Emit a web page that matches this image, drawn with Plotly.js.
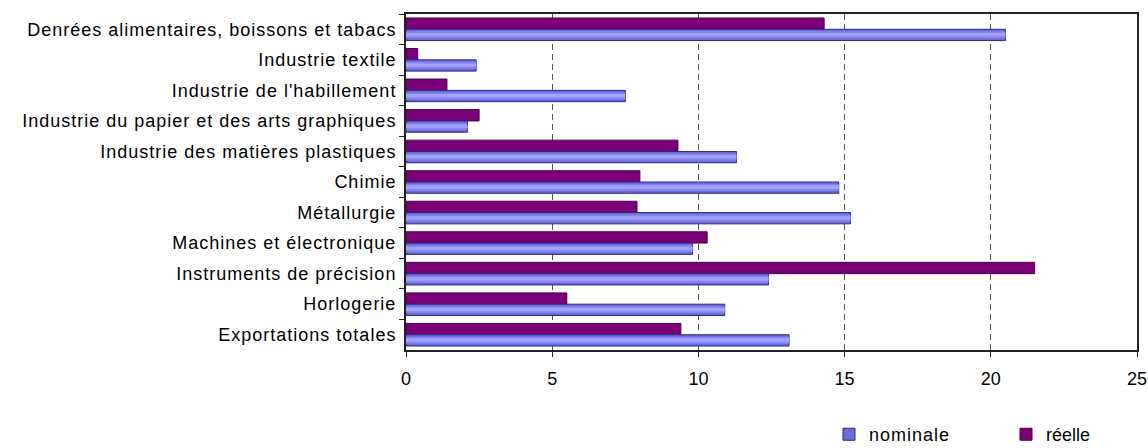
<!DOCTYPE html>
<html>
<head>
<meta charset="utf-8">
<script src="https://cdn.plot.ly/plotly-3.0.1.min.js"></script>
<style>
  html, body { margin: 0; padding: 0; background: #fff; }
  #chart { width: 1148px; height: 448px; }
  .ytick text, .legendtext { letter-spacing: 1px; }
</style>
</head>
<body>
<div id="chart"></div>
<script>
// Categories (top to bottom)
const categories = [
  "Denrées alimentaires, boissons et tabacs",
  "Industrie textile",
  "Industrie de l'habillement",
  "Industrie du papier et des arts graphiques",
  "Industrie des matières plastiques",
  "Chimie",
  "Métallurgie",
  "Machines et électronique",
  "Instruments de précision",
  "Horlogerie",
  "Exportations totales"
];

// Series values
const nominale = [20.5, 2.4, 7.5, 2.1, 11.3, 14.8, 15.2, 9.8, 12.4, 10.9, 13.1];
const reelle   = [14.3, 0.4, 1.4, 2.5, 9.3, 8.0, 7.9, 10.3, 21.5, 5.5, 9.4];

// Axis ticks
const xTicks = [0, 5, 10, 15, 20, 25];

const BAR_W = 0.37;
const FONT = "Liberation Sans, Arial, sans-serif";

const traces = [
  {
    type: "bar", orientation: "h", name: "réelle", legend: "legend2",
    y: categories, x: reelle,
    offset: -BAR_W, width: BAR_W,
    marker: { color: "#7b0077", line: { color: "#4a0046", width: 1 } }
  },
  {
    type: "bar", orientation: "h", name: "nominale", legend: "legend",
    y: categories, x: nominale,
    offset: 0, width: BAR_W,
    marker: { color: "#6a6ad8", line: { color: "#2c2c82", width: 1 } }
  },
  // cylinder shading on the nominale bars
  {
    type: "bar", orientation: "h", name: "nominale", showlegend: false, hoverinfo: "skip",
    y: categories, x: nominale,
    offset: BAR_W * 0.18, width: BAR_W * 0.62,
    marker: { color: "#8585f2", line: { width: 0 } }
  },
  {
    type: "bar", orientation: "h", name: "nominale", showlegend: false, hoverinfo: "skip",
    y: categories, x: nominale,
    offset: BAR_W * 0.32, width: BAR_W * 0.3,
    marker: { color: "#a2a2ff", line: { width: 0 } }
  }
];

const legendStyle = {
  orientation: "h", xref: "container", yref: "container",
  yanchor: "middle", xanchor: "left", y: 0.03,
  font: { family: FONT, size: 18, color: "#000" },
  bgcolor: "rgba(0,0,0,0)", borderwidth: 0,
  itemclick: false, itemdoubleclick: false
};

const layout = {
  width: 1148, height: 448,
  margin: { l: 406, r: 11, t: 14, b: 98, pad: 0 },
  paper_bgcolor: "#ffffff", plot_bgcolor: "#ffffff",
  barmode: "overlay",
  font: { family: FONT, size: 18, color: "#000" },
  xaxis: {
    range: [0, 25], tickvals: xTicks, ticktext: xTicks.map(String),
    showgrid: true, gridcolor: "#555", griddash: "6px,4px", gridwidth: 1,
    zeroline: false,
    showline: true, linecolor: "#222", linewidth: 2, mirror: true,
    ticks: "outside", ticklen: 5, tickcolor: "#222",
    ticklabelstandoff: 6,
    tickfont: { family: FONT, size: 18, color: "#000" }
  },
  yaxis: {
    type: "category", autorange: "reversed",
    showgrid: false, zeroline: false,
    showline: true, linecolor: "#222", linewidth: 2, mirror: true,
    ticks: "outside", ticklen: 5, tickcolor: "#222", tickson: "boundaries",
    ticklabelstandoff: 4,
    tickfont: { family: FONT, size: 18, color: "#000" }
  },
  showlegend: true,
  legend: Object.assign({}, legendStyle, { x: 829 / 1148 }),
  legend2: Object.assign({}, legendStyle, { x: 1006 / 1148 })
};

Plotly.newPlot("chart", traces, layout, { displayModeBar: false, staticPlot: true });
</script>
</body>
</html>
